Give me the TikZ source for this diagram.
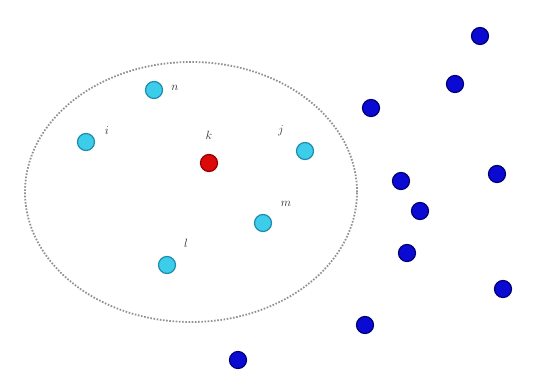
\documentclass[tikz,border=0pt]{standalone}
\usetikzlibrary{shapes.geometric}
\begin{document}
\begin{tikzpicture}[x=1pt,y=-1pt,
  dot/.style={circle,inner sep=0pt,minimum size=17pt,line width=1.2pt},
  cyandot/.style={dot,fill={rgb,255:red,60;green,205;blue,235},draw={rgb,255:red,30;green,140;blue,170}},
  bluedot/.style={dot,fill={rgb,255:red,10;green,10;blue,210},draw={rgb,255:red,0;green,0;blue,120}},
  reddot/.style={dot,fill={rgb,255:red,220;green,10;blue,10},draw={rgb,255:red,150;green,0;blue,0}},
  lab/.style={font=\fontsize{13}{15}\selectfont, text={rgb,255:red,45;green,45;blue,45}}]
\useasboundingbox (0,0) rectangle (533,388);
\node[draw={rgb,255:red,145;green,145;blue,145},line width=1.8pt,dash pattern=on 1.6pt off 1.6pt,ellipse,minimum width=332pt,minimum height=260pt,inner sep=0pt] (region) at (191,192) {};
% in-region points
\node[cyandot] (n) at (154,90) {};
\node[cyandot] (i) at (86,142) {};
\node[reddot] (k) at (209,163) {};
\node[cyandot] (j) at (305,151) {};
\node[cyandot] (m) at (263,223) {};
\node[cyandot] (l) at (167,265) {};
\node[lab] (ln) at (175,88) {$n$};
\node[lab] (li) at (107,131) {$i$};
\node[lab] (lk) at (209,135) {$k$};
\node[lab] (lj) at (281,131) {$j$};
\node[lab] (lm) at (286,204) {$m$};
\node[lab] (ll) at (186,243) {$l$};
% outside points
\node[bluedot] (b1) at (480,36) {};
\node[bluedot] (b2) at (455,84) {};
\node[bluedot] (b3) at (371,108) {};
\node[bluedot] (b4) at (401,181) {};
\node[bluedot] (b5) at (420,211) {};
\node[bluedot] (b6) at (407,253) {};
\node[bluedot] (b7) at (497,174) {};
\node[bluedot] (b8) at (503,289) {};
\node[bluedot] (b9) at (365,325) {};
\node[bluedot] (b10) at (238,360) {};
\end{tikzpicture}
\end{document}
